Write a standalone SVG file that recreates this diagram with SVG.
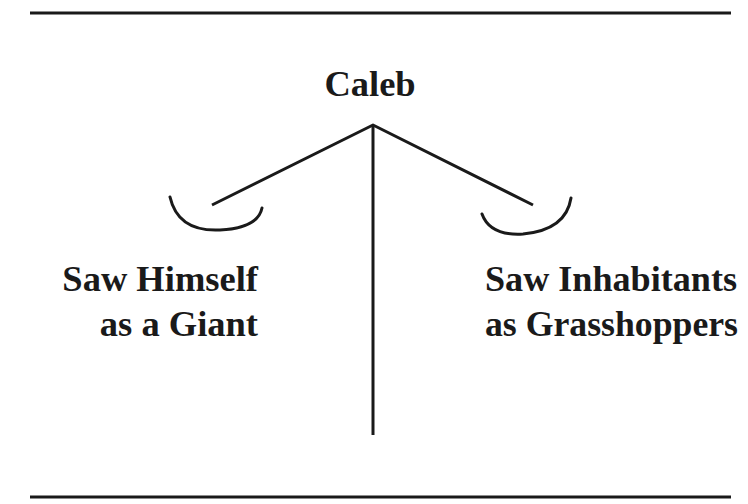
<svg xmlns="http://www.w3.org/2000/svg" width="748" height="504" viewBox="0 0 748 504">
<style>
.t{font-family:"Liberation Serif","Times New Roman",serif;font-weight:bold;font-size:36.5px;fill:#1a1a1a}
.l{stroke:#1a1a1a;fill:none;stroke-width:3}
.c{stroke:#1a1a1a;fill:none;stroke-width:3;stroke-linecap:round}
</style>
<rect width="748" height="504" fill="#fff"/>
<line class="l" x1="30" y1="13" x2="731" y2="13"/>
<line class="l" x1="30" y1="497" x2="731" y2="497"/>
<g id="caleb"><text class="t" x="370" y="96" text-anchor="middle">Caleb</text></g>
<g id="left"><text class="t" x="258" y="291" text-anchor="end">Saw Himself</text><text class="t" x="258" y="336" text-anchor="end">as a Giant</text>
<path class="c" d="M170 197 Q178 232 220 230 Q258 228 262 208"/></g>
<g id="right"><text class="t" x="485" y="291" textLength="252" lengthAdjust="spacingAndGlyphs">Saw Inhabitants</text><text class="t" x="485" y="336" textLength="253" lengthAdjust="spacingAndGlyphs">as Grasshoppers</text>
<path class="c" d="M482 214 Q490 236 523 234 Q566 230 571 198"/></g>
<g id="connectors">
<line class="l" x1="373" y1="125" x2="373" y2="435" stroke-width="3.5"/>
<polyline class="l" points="212,205 373,125 533,205" stroke-width="2.5" stroke-linejoin="round"/>
</g>
</svg>
